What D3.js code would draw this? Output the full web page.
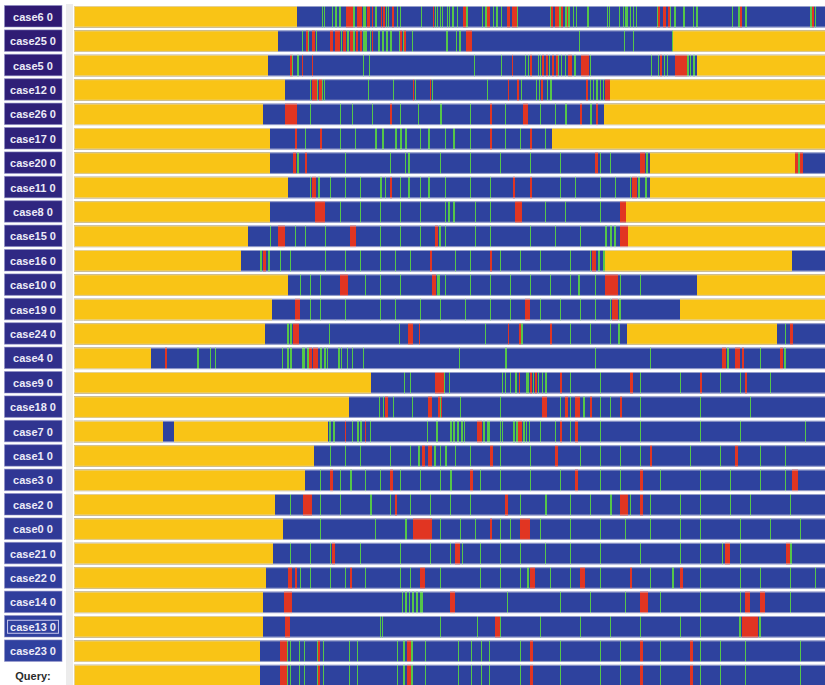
<!DOCTYPE html>
<html>
<head>
<meta charset="utf-8">
<script src="https://cdn.jsdelivr.net/npm/d3@7"></script>
<style>
  html, body { margin: 0; padding: 0; background: #ffffff; }
  svg { display: block; }
</style>
</head>
<body>
<svg id="chart" width="825" height="685"></svg>
<script>
// Case rows, ordered by similarity to the query sequence.
const caseLabels = ["case6 0","case25 0","case5 0","case12 0","case26 0","case17 0","case20 0","case11 0",
  "case8 0","case15 0","case16 0","case10 0","case19 0","case24 0","case4 0","case9 0","case18 0","case7 0",
  "case1 0","case3 0","case2 0","case0 0","case21 0","case22 0","case14 0","case13 0","case23 0"];
const queryLabel = "Query:";
const queryMatch = "case23 0";   // the query sequence is aligned identically to this case
const focusedLabel = "case13 0";
const columnCount = 751;          // visible alignment columns

// Gap (padding) runs for each case, [start, end) in alignment columns.
const gapRuns = [
  [[0,223]], [[0,204],[599,751]], [[0,194],[623,751]], [[0,211],[536,751]], [[0,189],[530,751]],
  [[0,196],[478,751]], [[0,196],[576,721]], [[0,214],[576,751]], [[0,196],[552,751]], [[0,174],[554,751]],
  [[0,167],[531,718]], [[0,214],[623,751]], [[0,198],[606,751]], [[0,191],[553,703]], [[0,77]],
  [[0,297]], [[0,275]], [[0,89],[100,254]], [[0,240]], [[0,231]], [[0,201]], [[0,209]], [[0,199]],
  [[0,192]], [[0,189]], [[0,189]], [[0,186]]
];

// Event type A runs (red).
const redRuns = [
  [[272,279],[283,288],[293,296],[298,299],[307,308],[309,311],[318,320],[359,360],[389,392],[413,416],[433,436],[438,443],[477,479],[481,485],[487,489],[493,495],[583,586],[589,592],[594,596],[666,668],[738,740]],
  [[232,234],[238,241],[256,259],[261,266],[269,272],[276,279],[282,284],[286,288],[298,299],[326,328],[330,332],[392,398]],
  [[216,218],[228,229],[238,239],[438,439],[456,458],[468,470],[472,474],[478,480],[482,484],[494,498],[507,515],[586,588],[601,613]],
  [[238,243],[245,248],[339,340],[356,357],[434,435],[443,445],[467,469],[512,514],[531,536]],
  [[211,223],[316,318],[416,418],[449,454],[506,508],[522,524]],
  [[221,223],[246,248],[416,418],[456,458]],
  [[219,222],[231,233],[521,524],[566,571],[721,724],[726,729]],
  [[238,242],[316,318],[439,441],[456,458],[558,563]],
  [[241,251],[441,448],[546,552]],
  [[204,211],[276,282],[361,364],[546,554]],
  [[189,192],[356,358],[416,418],[518,522]],
  [[266,274],[358,362],[531,544]],
  [[221,226],[451,456],[538,544]],
  [[219,225],[334,339],[345,346],[434,435],[445,447],[476,478],[716,719]],
  [[91,93],[235,238],[239,244],[648,652],[661,666],[668,670],[706,709]],
  [[361,370],[445,446],[456,458],[461,463],[486,488],[556,559],[626,628],[671,673]],
  [[311,314],[354,358],[364,368],[468,473],[491,494],[501,506],[516,518],[546,548]],
  [[271,272],[291,292],[403,408],[444,448],[486,488],[501,504]],
  [[348,351],[354,358],[416,419],[481,484],[576,578],[661,664]],
  [[256,259],[316,319],[396,399],[501,504],[566,569],[718,724]],
  [[229,238],[321,323],[431,434],[546,554],[566,569]],
  [[339,358],[416,418],[446,456]],
  [[258,261],[381,386],[651,656],[712,716]],
  [[214,218],[221,223],[276,278],[346,351],[456,461],[506,511],[556,558],[606,609]],
  [[210,218],[376,381],[566,574],[671,676],[686,691]],
  [[211,216],[421,426],[668,684]],
  [[206,213],[244,246],[333,337],[456,459],[566,569],[616,619]]
];

// Event type B runs (green).
const greenRuns = [
  [[248,249],[250,251],[258,259],[261,263],[265,267],[279,281],[289,292],[301,303],[312,313],[314,315],[323,324],[326,327],[347,348],[361,362],[363,364],[366,367],[368,369],[373,374],[375,376],[378,380],[383,384],[392,394],[408,409],[411,413],[419,420],[422,424],[427,428],[443,444],[476,477],[485,487],[491,493],[494,496],[499,500],[502,503],[513,515],[533,534],[535,536],[545,546],[549,550],[551,554],[556,557],[559,560],[562,563],[583,584],[596,597],[600,602],[609,611],[619,620],[622,624],[658,659],[664,666],[671,673],[736,738],[741,742]],
  [[228,229],[234,235],[242,243],[267,268],[273,275],[279,281],[289,291],[291,293],[296,297],[304,306],[308,310],[312,314],[316,318],[325,326],[329,330],[338,339],[372,374],[382,383],[385,387],[505,506],[550,551],[559,560],[598,599]],
  [[218,219],[223,225],[289,290],[295,296],[400,401],[427,428],[451,452],[454,455],[464,465],[466,467],[475,476],[484,485],[487,488],[491,492],[500,502],[516,517],[577,578],[584,585],[590,591],[593,594],[613,615],[616,617],[619,621]],
  [[236,237],[243,244],[248,249],[250,251],[294,295],[319,320],[341,342],[358,359],[413,414],[447,448],[462,463],[465,466],[473,474],[476,478],[516,517],[519,520],[522,524],[526,527],[529,530]],
  [[236,237],[266,267],[278,279],[298,299],[326,327],[344,345],[366,368],[396,397],[431,432],[466,467],[481,482],[491,493],[516,518]],
  [[231,232],[266,267],[281,282],[301,303],[308,310],[321,323],[326,328],[331,333],[346,347],[354,356],[371,372],[379,381],[396,397],[431,432],[446,447],[471,472]],
  [[223,225],[271,272],[316,317],[331,332],[334,336],[366,367],[396,397],[426,427],[456,457],[486,487],[526,527],[536,537],[572,574],[724,726]],
  [[236,237],[244,246],[256,257],[271,272],[286,287],[306,308],[311,312],[326,327],[334,336],[346,347],[354,356],[371,372],[396,397],[416,417],[486,487],[501,502],[526,527],[541,542],[556,557],[564,566],[571,573]],
  [[266,267],[286,287],[306,307],[326,327],[346,347],[371,372],[374,376],[379,381],[401,402],[416,417],[471,472],[491,492],[526,527]],
  [[196,197],[221,222],[231,232],[251,252],[306,307],[326,327],[346,347],[365,367],[371,372],[401,402],[416,417],[456,457],[481,482],[506,507],[531,533],[536,538],[540,542]],
  [[186,188],[194,196],[206,207],[216,217],[251,252],[271,272],[286,287],[306,307],[321,322],[336,337],[381,382],[396,397],[426,427],[446,447],[466,467],[496,497],[516,517],[524,526],[529,531]],
  [[226,227],[236,237],[246,247],[291,292],[306,307],[326,327],[363,366],[371,372],[396,397],[416,417],[436,437],[456,457],[476,477],[496,497],[504,506],[521,522],[546,547],[566,567]],
  [[236,237],[246,247],[271,272],[306,307],[321,322],[346,347],[366,367],[391,392],[416,417],[436,437],[466,467],[486,487],[506,507],[521,522],[536,537],[545,547]],
  [[213,215],[216,218],[255,256],[325,326],[411,412],[447,449],[496,497],[516,517],[536,537],[544,546],[711,712]],
  [[123,125],[136,137],[141,142],[208,209],[213,215],[216,218],[228,231],[233,235],[246,248],[250,252],[253,254],[264,266],[267,268],[273,274],[278,279],[289,290],[385,386],[431,433],[521,522],[576,577],[653,655],[686,687],[710,712]],
  [[330,331],[336,337],[370,371],[375,376],[428,429],[431,432],[436,437],[441,443],[452,454],[454,455],[459,460],[464,465],[468,469],[471,473],[496,497],[526,527],[566,567],[606,607],[646,647],[666,667],[696,697]],
  [[305,306],[309,310],[319,320],[338,339],[366,367],[386,387],[426,427],[486,487],[496,497],[509,511],[526,527],[536,537],[566,567],[626,627],[676,677]],
  [[255,257],[259,261],[278,279],[283,285],[286,288],[296,297],[353,354],[362,364],[376,378],[379,381],[383,385],[387,389],[390,391],[409,411],[413,416],[426,427],[428,429],[439,441],[442,444],[449,451],[452,453],[455,456],[466,467],[481,482],[496,497],[526,527],[566,567],[626,627],[666,667],[731,732]],
  [[256,257],[271,272],[286,287],[316,317],[336,337],[344,346],[360,362],[366,367],[371,373],[381,382],[396,397],[426,427],[456,457],[506,507],[526,527],[546,547],[566,567],[616,617],[646,647],[686,687],[711,712]],
  [[246,247],[266,267],[276,278],[291,292],[306,307],[326,327],[346,347],[366,367],[376,378],[406,407],[426,427],[456,457],[486,487],[526,527],[546,547],[586,587],[626,627],[656,657],[686,687],[711,712]],
  [[216,217],[246,247],[266,267],[296,298],[316,317],[336,337],[356,357],[376,377],[396,397],[446,447],[471,473],[496,497],[516,517],[536,538],[556,557],[576,577],[606,607],[626,627],[656,657],[676,677],[716,717]],
  [[246,247],[301,302],[331,333],[366,367],[386,387],[401,402],[426,427],[436,437],[466,467],[496,497],[526,527],[551,552],[576,577],[606,607],[626,627],[666,667],[696,697],[726,727]],
  [[216,217],[236,237],[256,257],[286,287],[326,327],[356,357],[376,377],[388,389],[406,407],[426,427],[446,447],[471,472],[496,497],[526,527],[566,567],[606,607],[626,627],[648,649],[666,667],[716,718]],
  [[226,227],[236,237],[256,257],[271,272],[291,292],[326,327],[336,337],[366,367],[406,407],[426,427],[446,447],[453,455],[476,477],[496,497],[526,527],[576,577],[598,600],[626,627],[666,667],[686,687],[716,717],[741,742]],
  [[328,329],[331,333],[335,336],[338,340],[342,344],[346,349],[433,434],[486,487],[516,517],[551,552],[586,587],[626,627],[666,667],[716,717]],
  [[306,307],[308,309],[366,367],[403,404],[426,427],[466,467],[506,507],[536,537],[566,567],[606,607],[626,627],[665,667],[685,687]],
  [[213,214],[216,217],[225,226],[230,231],[243,244],[249,250],[275,276],[283,284],[323,324],[329,331],[337,339],[351,352],[384,385],[397,398],[407,408],[415,416],[446,447],[486,487],[526,527],[546,547],[586,587],[626,627],[646,647],[671,672],[726,727]]
];

const colors = { base: "#2f439e", gap: "#f9c416", red: "#e13424", green: "#55c64a" };

// Rows: every case plus the query row at the bottom.
const rows = caseLabels.map((label, i) => ({ label, gaps: gapRuns[i], red: redRuns[i], green: greenRuns[i], isQuery: false }));
const qi = caseLabels.indexOf(queryMatch);
rows.push({ label: queryLabel, gaps: gapRuns[qi], red: redRuns[qi], green: greenRuns[qi], isQuery: true });

const svg = d3.select("#chart");

// Slight horizontal softening of the dense event stripes
const defs = svg.append("defs");
defs.append("filter").attr("id", "soften")
  .attr("x", "-1%").attr("y", "0%").attr("width", "102%").attr("height", "100%")
  .append("feGaussianBlur").attr("stdDeviation", "0.55 0");

const x = d3.scaleLinear().domain([0, columnCount]).range([74, 825]);
const y = d3.scaleBand().domain(rows.map(r => r.label)).range([6, 686.3]).paddingInner(0.12).paddingOuter(0);
const labelColor = d3.scaleLinear().domain([0, caseLabels.length - 1])
  .range(["#2f1a72", "#3041a0"]).interpolate(d3.interpolateRgb);

// Separator strip between the label column and the tracks
svg.append("rect").attr("x", 66).attr("y", 4).attr("width", 7).attr("height", 681).attr("fill", "#ececec");

// Label column
const labels = svg.append("g").selectAll("g").data(rows).join("g")
  .attr("transform", d => `translate(0,${y(d.label) - 0.5})`);

labels.filter(d => !d.isQuery).append("rect")
  .attr("x", 4.5).attr("y", 0).attr("width", 57.5).attr("height", y.bandwidth())
  .attr("fill", (d, i) => labelColor(i))
  .attr("stroke", "#8d8cc4").attr("stroke-opacity", 0.55).attr("stroke-width", 1);

labels.append("text")
  .attr("x", 33).attr("y", y.bandwidth() / 2 + 0.5)
  .attr("text-anchor", "middle").attr("dominant-baseline", "central")
  .attr("font-family", "'Liberation Sans', Arial, sans-serif")
  .attr("font-weight", "bold").attr("font-size", 11)
  .attr("fill", d => d.isQuery ? "#2b2b2b" : "#ecebf8")
  .text(d => d.label);

// Keyboard-focus outline on the selected case label
labels.filter(d => d.label === focusedLabel).each(function() {
  const g = d3.select(this);
  const bb = g.select("text").node().getBBox();
  g.append("rect")
    .attr("x", bb.x - 2.5).attr("y", bb.y - 0.5).attr("width", bb.width + 5).attr("height", bb.height + 1)
    .attr("fill", "none").attr("stroke", "#c9c8ee").attr("stroke-width", 1);
});

// Tracks
const tracks = svg.append("g").selectAll("g").data(rows).join("g")
  .attr("transform", d => `translate(0,${y(d.label)})`);

const marks = tracks.append("g").attr("filter", "url(#soften)");

marks.append("rect")
  .attr("x", x(0)).attr("y", 0).attr("width", x(columnCount) - x(0)).attr("height", y.bandwidth())
  .attr("fill", colors.base);

const drawRuns = (key, color) => {
  marks.selectAll(`rect.${key}`).data(d => d[key]).join("rect")
    .attr("class", key)
    .attr("x", r => x(r[0])).attr("y", 0)
    .attr("width", r => x(r[1]) - x(r[0])).attr("height", y.bandwidth())
    .attr("fill", color);
};
drawRuns("gaps", colors.gap);
drawRuns("red", colors.red);
drawRuns("green", colors.green);

// Soft outline around each track
tracks.append("rect")
  .attr("x", x(0) + 0.5).attr("y", 0.5).attr("width", x(columnCount) - x(0)).attr("height", y.bandwidth() - 1)
  .attr("fill", "none").attr("stroke", "#d9dbe8").attr("stroke-opacity", 0.6).attr("stroke-width", 1);
</script>
</body>
</html>
